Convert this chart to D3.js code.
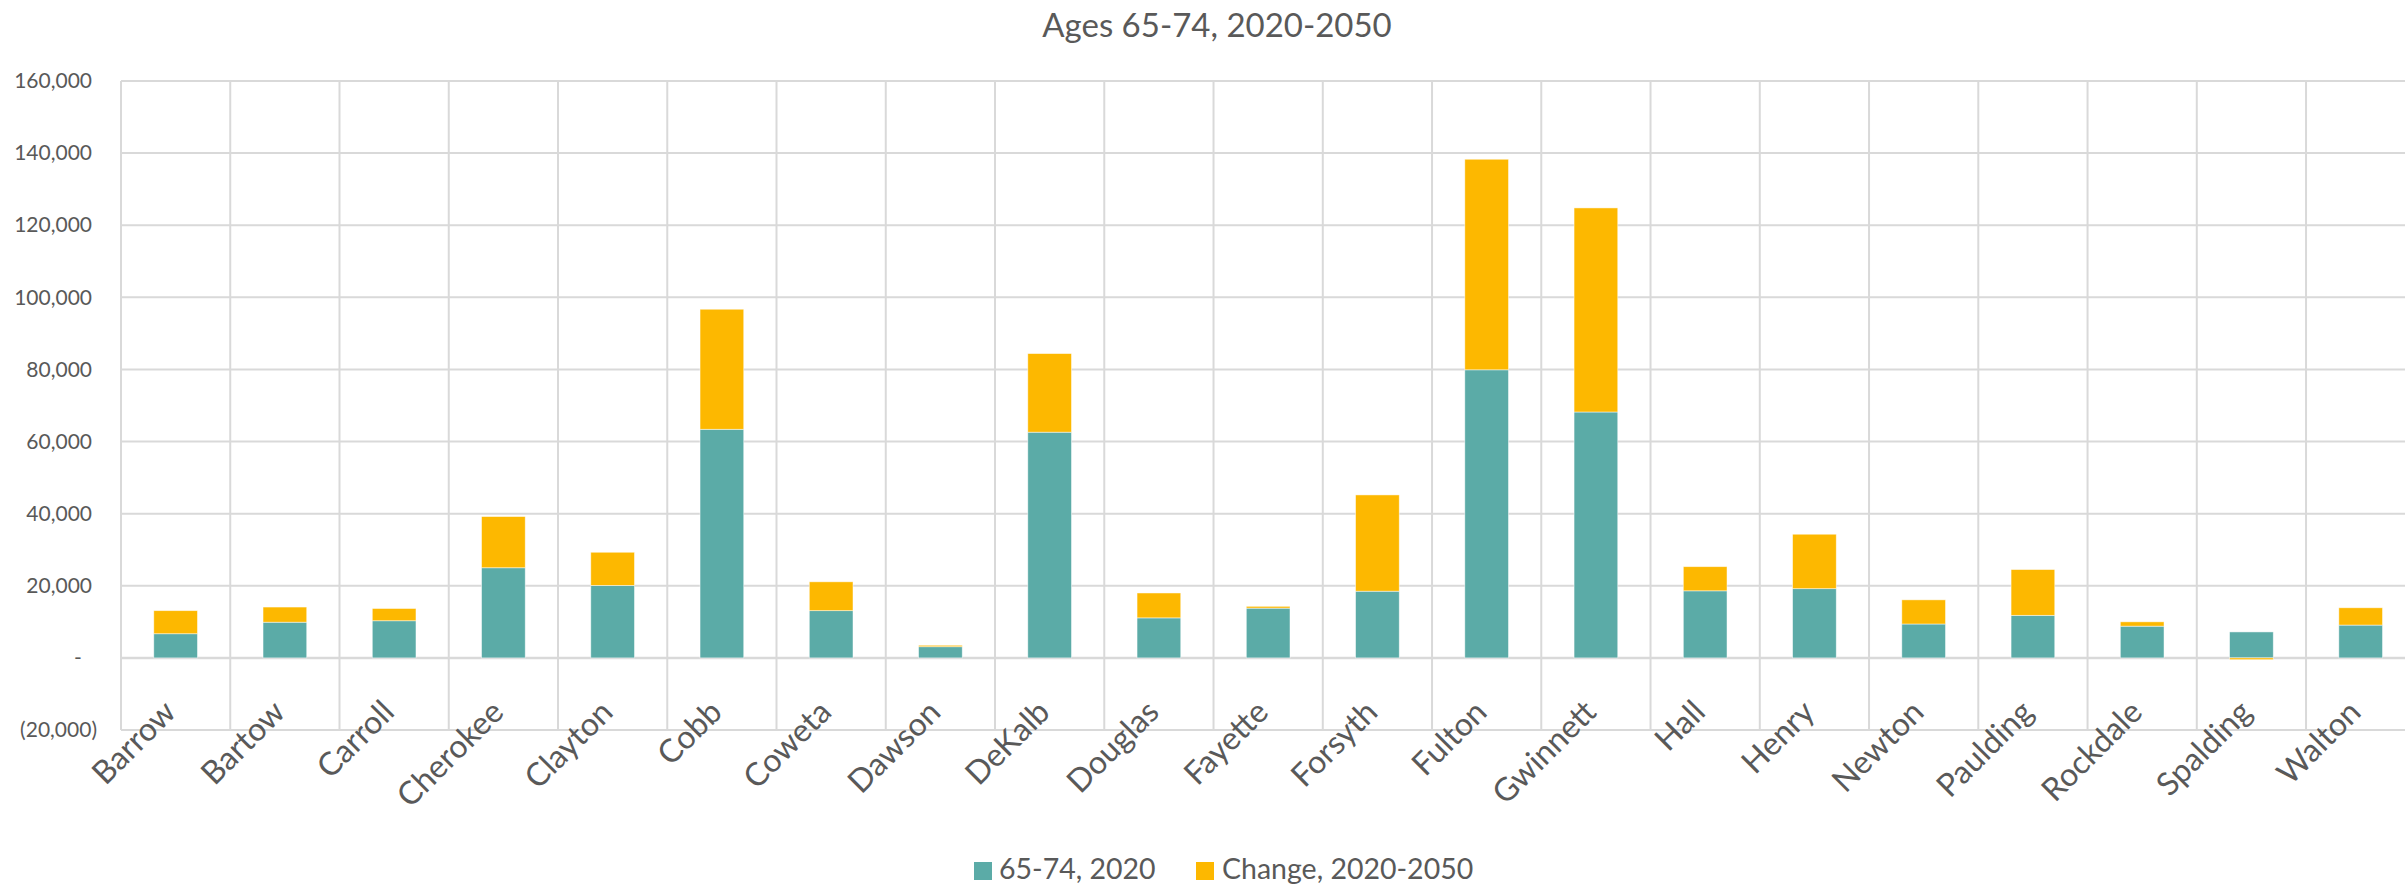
<!DOCTYPE html>
<html>
<head>
<meta charset="utf-8">
<script src="https://cdn.jsdelivr.net/npm/d3@7"></script>
<style>
  html, body { margin: 0; padding: 0; background: #fff; }
  svg { display: block; }
  text { font-family: Lato, "Open Sans", sans-serif; fill: #595959; }
</style>
</head>
<body>
<svg id="chart" width="2405" height="884"></svg>
<script>
// ---- data ----
const counties = ["Barrow","Bartow","Carroll","Cherokee","Clayton","Cobb","Coweta","Dawson","DeKalb","Douglas","Fayette","Forsyth","Fulton","Gwinnett","Hall","Henry","Newton","Paulding","Rockdale","Spalding","Walton"];
const pop2020 = [6700, 9900, 10300, 25000, 20100, 63400, 13100, 3100, 62600, 11100, 13800, 18500, 79900, 68200, 18600, 19200, 9400, 11800, 8800, 7200, 9100];
const change2050 = [6400, 4200, 3400, 14200, 9200, 33300, 8000, 400, 21800, 6900, 500, 26700, 58400, 56600, 6700, 15100, 6700, 12700, 1200, -500, 4800];
const seriesNames = ["65-74, 2020", "Change, 2020-2050"];
const seriesColors = ["#5BABA7", "#FDB800"];
const yTicks = [-20000, 0, 20000, 40000, 60000, 80000, 100000, 120000, 140000, 160000];
const chartTitle = "Ages 65-74, 2020-2050";

// ---- layout ----
const svg = d3.select("#chart");
const plotLeft = 121, plotRight = 2415.3, plotTop = 81, plotBottom = 730;

const x = d3.scaleBand().domain(counties).range([plotLeft, plotRight])
  .paddingInner(0.6).paddingOuter(0.3);
const y = d3.scaleLinear().domain([-20000, 160000]).range([plotBottom, plotTop]);

const grid = "#D9D9D9";

// horizontal gridlines
svg.append("g").selectAll("line").data(yTicks).join("line")
  .attr("x1", plotLeft).attr("x2", plotRight)
  .attr("y1", d => y(d)).attr("y2", d => y(d))
  .attr("stroke", grid).attr("stroke-width", d => d === 0 ? 2.5 : 2);

// vertical gridlines at category boundaries
const step = x.step();
svg.append("g").selectAll("line").data(d3.range(counties.length + 1)).join("line")
  .attr("x1", i => plotLeft + i * step).attr("x2", i => plotLeft + i * step)
  .attr("y1", plotTop).attr("y2", plotBottom)
  .attr("stroke", grid).attr("stroke-width", 2);

// stacked bars
const rows = counties.map((c, i) => ({ county: c, a: pop2020[i], b: change2050[i] }));
const stack = d3.stack().keys(["a", "b"]).offset(d3.stackOffsetDiverging);
const layers = stack(rows);

svg.append("g").selectAll("g").data(layers).join("g")
  .attr("fill", (d, i) => seriesColors[i])
  .selectAll("rect").data(d => d).join("rect")
  .attr("x", d => x(d.data.county))
  .attr("width", x.bandwidth())
  .attr("y", d => y(Math.max(d[0], d[1])))
  .attr("height", d => Math.abs(y(d[0]) - y(d[1])))
  .attr("stroke", "#ffffff").attr("stroke-width", 0.8).attr("stroke-opacity", 0.6);

// y axis (labels only)
const fmt = d3.format(",");
const yAxis = d3.axisLeft(y).tickValues(yTicks).tickSize(0).tickPadding(0)
  .tickFormat(d => d === 0 ? "-" : d < 0 ? "(" + fmt(-d) + ")" : fmt(d));
const yg = svg.append("g").attr("transform", "translate(92,0)").call(yAxis);
yg.select(".domain").remove();
yg.selectAll("text")
  .attr("font-family", "Lato, sans-serif").attr("font-size", 21).attr("fill", "#595959")
  .attr("x", d => d === 0 ? -14 : d < 0 ? 5 : 0)
  .attr("text-anchor", d => d === 0 ? "middle" : "end");

// x axis labels (rotated)
svg.append("g").selectAll("text").data(counties).join("text")
  .attr("transform", d => `translate(${x(d) + x.bandwidth() / 2 + 2},714) rotate(-45)`)
  .attr("text-anchor", "end")
  .attr("font-size", 32)
  .text(d => d);

// title
svg.append("text").attr("x", 1217).attr("y", 37).attr("text-anchor", "middle")
  .attr("font-size", 33).text(chartTitle);

// legend
const legendItems = [{ x: 974, tx: 999 }, { x: 1196, tx: 1222 }];
const lg = svg.append("g").selectAll("g").data(seriesNames).join("g");
lg.append("rect").attr("x", (d, i) => legendItems[i].x).attr("y", 862)
  .attr("width", 18).attr("height", 18).attr("fill", (d, i) => seriesColors[i]);
lg.append("text").attr("x", (d, i) => legendItems[i].tx).attr("y", 879)
  .attr("font-size", 28.5).text(d => d);
</script>
</body>
</html>
